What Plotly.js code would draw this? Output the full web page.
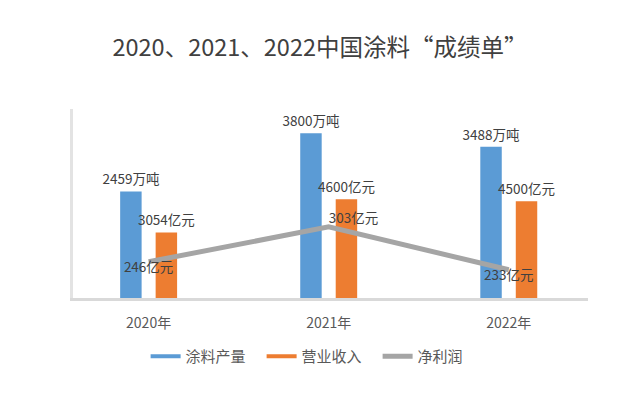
<!DOCTYPE html>
<html>
<head>
<meta charset="utf-8">
<script src="https://cdn.plot.ly/plotly-3.0.1.min.js"></script>
<style>html,body{margin:0;padding:0;background:#fff;}#chart{width:640px;height:394px;}</style>
</head>
<body>
<div id="chart"></div>
<script>
const categories = ['2020年', '2021年', '2022年'];
const output = [2459, 3800, 3488];      // 涂料产量 (万吨)
const revenue = [3054, 4600, 4500];     // 营业收入 (亿元)
const profit = [246, 303, 233];         // 净利润 (亿元)
const seriesNames = ['涂料产量', '营业收入', '净利润'];

const FONT = '"Noto Sans CJK SC", "Noto Sans", sans-serif';
const BLUE = '#5b9bd5', ORANGE = '#ed7d31', GRAY = '#a5a5a5';
const LABEL = {family: FONT, size: 13.5, color: '#404040'};

const traces = [
  {type: 'bar', x: categories, y: output, yaxis: 'y', name: seriesNames[0],
   marker: {color: BLUE}, showlegend: false,
   alignmentgroup: 'g', offsetgroup: 'a',
   text: output.map(v => v + '万吨'), textposition: 'outside', textfont: LABEL,
   constraintext: 'none', cliponaxis: false, hoverinfo: 'skip'},
  {type: 'bar', x: categories, y: revenue, yaxis: 'y2', name: seriesNames[1],
   marker: {color: ORANGE}, showlegend: false,
   alignmentgroup: 'g', offsetgroup: 'b',
   text: revenue.map(v => v + '亿元'), textposition: 'outside', textfont: LABEL,
   constraintext: 'none', cliponaxis: false, hoverinfo: 'skip'},
  {type: 'scatter', x: [null], y: [null], mode: 'lines', name: seriesNames[0],
   line: {color: BLUE, width: 4}},
  {type: 'scatter', x: [null], y: [null], mode: 'lines', name: seriesNames[1],
   line: {color: ORANGE, width: 4}},
  {type: 'scatter', x: categories, y: profit, yaxis: 'y3', name: seriesNames[2],
   mode: 'lines+text', line: {color: GRAY, width: 5},
   text: profit.map(v => v + '亿元'),
   textposition: ['bottom center', 'top right', 'bottom center'],
   textfont: LABEL, cliponaxis: false}
];

const hiddenY = {showgrid: false, zeroline: false, showticklabels: false, ticks: ''};

const layout = {
  width: 640, height: 394,
  margin: {l: 73, r: 52, t: 109, b: 96},
  paper_bgcolor: '#ffffff', plot_bgcolor: '#ffffff',
  font: {family: FONT, color: '#404040'},
  title: {text: '2020、2021、2022中国涂料“成绩单”', font: {family: FONT, size: 23.5, color: '#404040'},
          x: 0.5, xref: 'container', xanchor: 'center', y: 0.88, yref: 'container', yanchor: 'middle'},
  barmode: 'group', bargap: 0.606, bargroupgap: 0.395,
  xaxis: {type: 'category', range: [-0.42, 2.44], showgrid: false, zeroline: false,
          showline: true, linecolor: '#d9d9d9', linewidth: 3, ticks: '',
          ticklabelstandoff: 10,
          tickfont: {family: FONT, size: 14, color: '#595959'}},
  yaxis: Object.assign({range: [0, 4360], showline: true, linecolor: '#e3e3e3', linewidth: 3}, hiddenY),
  yaxis2: Object.assign({range: [0, 8800], overlaying: 'y', side: 'right', showline: false}, hiddenY),
  yaxis3: Object.assign({range: [187, 495], overlaying: 'y', side: 'right', showline: false}, hiddenY),
  showlegend: true,
  legend: {orientation: 'h', x: 0.141, xanchor: 'left', y: -0.31, yanchor: 'middle',
           entrywidth: 71, entrywidthmode: 'pixels',
           font: {family: FONT, size: 15, color: '#595959'}, traceorder: 'normal'}
};

Plotly.newPlot('chart', traces, layout, {displayModeBar: false, staticPlot: true});
</script>
</body>
</html>
